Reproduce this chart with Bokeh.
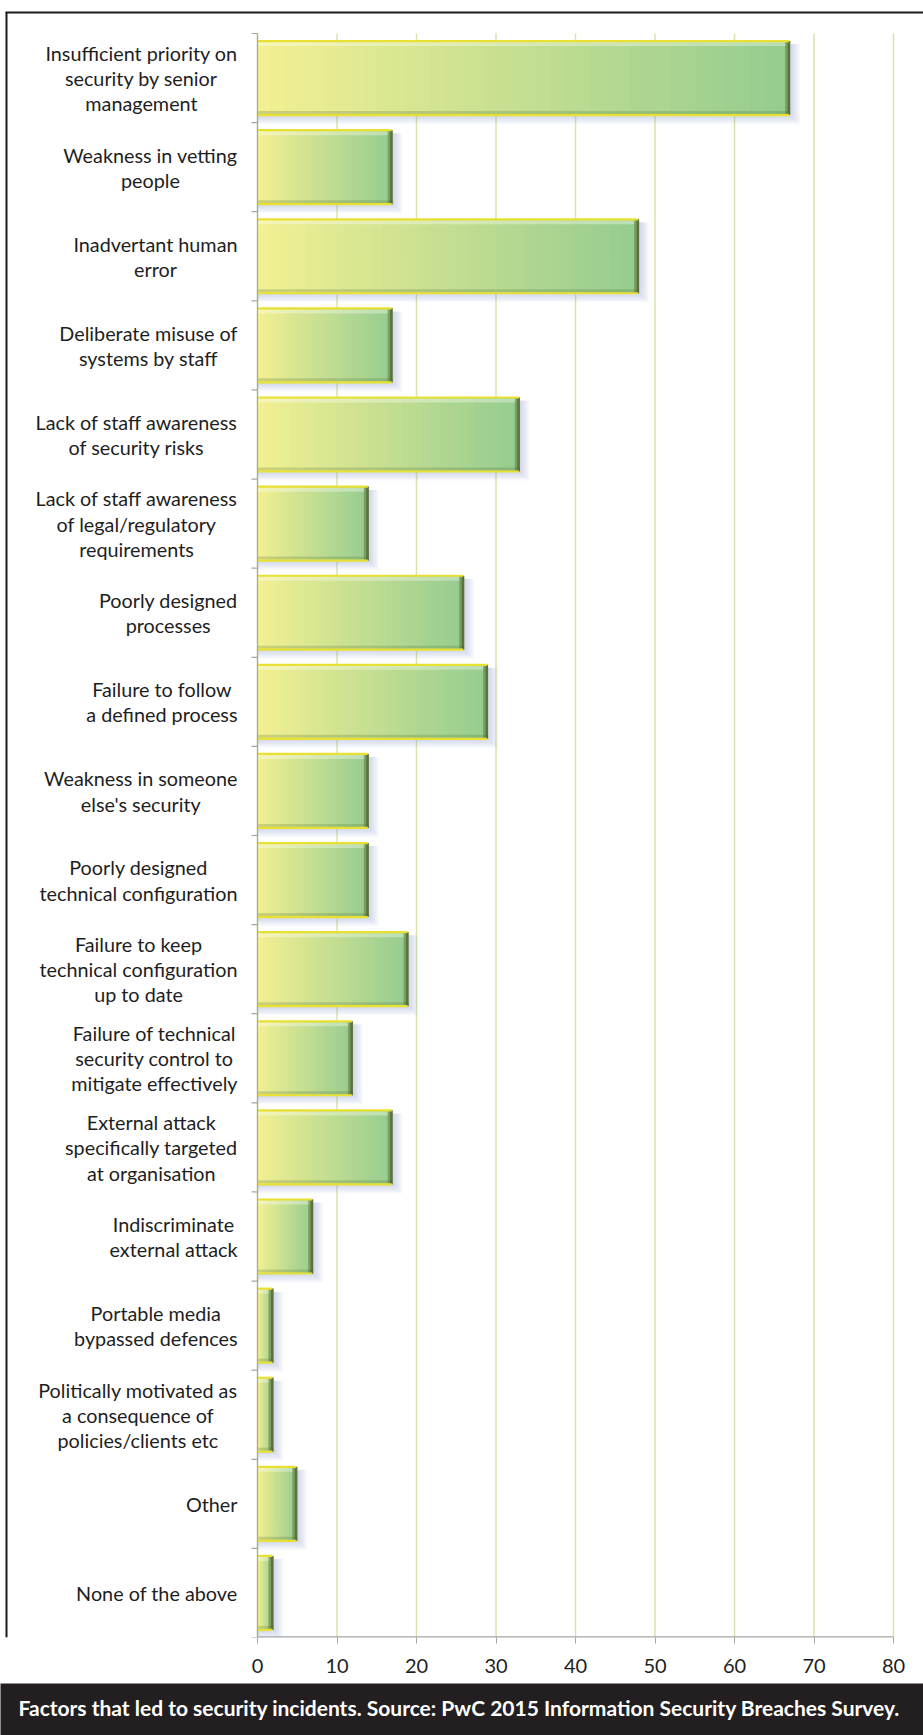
from bokeh.plotting import figure
from bokeh.layouts import column
from bokeh.models import FixedTicker, Range1d
from bokeh.core.properties import value
from bokeh.embed import file_html
from bokeh.resources import INLINE

# ---------------- data ----------------
categories = [
    "Insufficient priority on\nsecurity by senior\nmanagement",
    "Weakness in vetting\npeople",
    "Inadvertant human\nerror",
    "Deliberate misuse of\nsystems by staff",
    "Lack of staff awareness\nof security risks",
    "Lack of staff awareness\nof legal/regulatory\nrequirements",
    "Poorly designed\nprocesses",
    "Failure to follow\na defined process",
    "Weakness in someone\nelse's security",
    "Poorly designed\ntechnical configuration",
    "Failure to keep\ntechnical configuration\nup to date",
    "Failure of technical\nsecurity control to\nmitigate effectively",
    "External attack\nspecifically targeted\nat organisation",
    "Indiscriminate\nexternal attack",
    "Portable media\nbypassed defences",
    "Politically motivated as\na consequence of\npolicies/clients etc",
    "Other",
    "None of the above",
]
values = [67, 17, 48, 17, 33, 14, 26, 29, 14, 14, 19, 12, 17, 7, 2, 2, 5, 2]
x_ticks = [0, 10, 20, 30, 40, 50, 60, 70, 80]
caption = "Factors that led to security incidents. Source: PwC 2015 Information Security Breaches Survey."

# ---------------- layout constants (pixels) ----------------
W = 923
H = 1683
BOTTOM = 46
FRAME_H = H - BOTTOM
PLOT_TOP = 33          # px from frame top to category area top
AXIS_LEFT = 257        # px from frame left to x=0
PLOT_W = 636           # px from 0 to 80

xs = PLOT_W / (x_ticks[-1] - x_ticks[0])      # px per x-unit
n = len(values)
ys = (FRAME_H - PLOT_TOP) / n                 # px per y-unit
dx = 1.0 / xs
dy = 1.0 / ys
x_start = -AXIS_LEFT / xs
x_end = (W - AXIS_LEFT) / xs
y_end = FRAME_H / ys

FONT_NAME = "Lato"
LABEL_FONT = value(FONT_NAME)
AX_GRAY = "#A6A6A6"

p = figure(width=W, height=H, output_backend="svg", toolbar_location=None,
           x_range=Range1d(x_start, x_end), y_range=Range1d(0, y_end),
           y_axis_location=None, min_border_left=0, min_border_right=0,
           min_border_top=0, min_border_bottom=BOTTOM)
p.outline_line_color = None
p.background_fill_color = "white"
p.border_fill_color = "white"
p.xgrid.grid_line_color = None
p.ygrid.grid_line_color = None

# x axis
ax = p.xaxis[0]
ax.ticker = FixedTicker(ticks=x_ticks)
ax.axis_line_color = None
ax.major_tick_line_color = AX_GRAY
ax.major_tick_out = 6
ax.major_tick_in = 0
ax.minor_tick_line_color = None
ax.major_label_text_font = FONT_NAME
ax.major_label_text_font_size = "20px"
ax.major_label_text_color = "#1E1E1E"
ax.major_label_standoff = 15

# grid lines (only over category area)
p.segment(x0=x_ticks, y0=[0] * len(x_ticks), x1=x_ticks, y1=[n] * len(x_ticks),
          line_color="#D5E6AC", line_width=1.5)

# bars
centers = [n - i - 0.5 for i in range(n)]
bh = 0.83
tops = [c + bh / 2 for c in centers]
bots = [c - bh / 2 for c in centers]

# soft shadow
for k in range(1, 8):
    p.quad(left=[0] * n, right=[v + 1.4 * k * dx for v in values],
           top=[t - 3 * dy for t in tops], bottom=[b - 1.3 * k * dy for b in bots],
           fill_color="#8497C4", fill_alpha=0.06, line_color=None)

# gradient fill (overlapping slices to avoid seams)
c0 = (243, 240, 146)
c1 = (148, 204, 144)
N = 40
L, R, T, B, C = [], [], [], [], []
for v, t, b in zip(values, tops, bots):
    for k in range(N):
        f = (k + 0.5) / N
        col = tuple(int(round(c0[j] + (c1[j] - c0[j]) * f)) for j in range(3))
        L.append(v * k / N)
        R.append(min(v * (k + 1) / N + 1.5 * dx, v))
        T.append(t)
        B.append(b)
        C.append("#%02x%02x%02x" % col)
p.quad(left=L, right=R, top=T, bottom=B, fill_color=C, line_color=None)

# bevel: top highlight, bottom shade, right dark edge
p.quad(left=[0] * n, right=[v - 4 * dx for v in values],
       top=[t - 1 * dy for t in tops], bottom=[t - 5 * dy for t in tops],
       fill_color="white", fill_alpha=0.35, line_color=None)
p.quad(left=[0] * n, right=values,
       top=[b + 4 * dy for b in bots], bottom=[b + 1 * dy for b in bots],
       fill_color="#46621f", fill_alpha=0.22, line_color=None)
p.quad(left=[v - 5 * dx for v in values], right=values, top=tops, bottom=bots,
       fill_color="#56652b", fill_alpha=0.45, line_color=None)
p.quad(left=[v - 2.5 * dx for v in values], right=values, top=tops, bottom=bots,
       fill_color="#4a5424", fill_alpha=0.6, line_color=None)
# yellow outline on top and bottom
p.segment(x0=[0] * n, y0=tops, x1=[v - 1 * dx for v in values], y1=tops,
          line_color="#E8E133", line_width=2.2)
p.segment(x0=[0] * n, y0=bots, x1=[v - 1 * dx for v in values], y1=bots,
          line_color="#E8E133", line_width=2.2)

# y axis line and boundary ticks
p.segment(x0=[0], y0=[0], x1=[0], y1=[n], line_color=AX_GRAY, line_width=1.2)
bounds = list(range(n + 1))
p.segment(x0=[-6 * dx] * len(bounds), y0=bounds, x1=[0] * len(bounds), y1=bounds,
          line_color=AX_GRAY, line_width=1.2)
# x axis line
p.segment(x0=[x_ticks[0]], y0=[0], x1=[x_ticks[-1]], y1=[0],
          line_color=AX_GRAY, line_width=2.4)

# category labels
p.text(x=[-20 * dx] * n, y=centers, text=categories,
       anchor="center_right", text_align="center", text_baseline="middle",
       text_font=LABEL_FONT, text_font_size="19.8px", text_color="#1E1E1E",
       text_line_height=1.05)

# frame border (top and left)
p.segment(x0=[x_start + 5 * dx], y0=[y_end - 12 * dy], x1=[x_end], y1=[y_end - 12 * dy],
          line_color="#1A1A1A", line_width=2)
p.segment(x0=[x_start + 6 * dx], y0=[0], x1=[x_start + 6 * dx], y1=[y_end - 12 * dy],
          line_color="#1A1A1A", line_width=2)

# caption band
CH = 52
cap = figure(width=W, height=CH, output_backend="svg", toolbar_location=None,
             x_range=Range1d(0, W), y_range=Range1d(0, CH),
             x_axis_location=None, y_axis_location=None, min_border=0)
cap.outline_line_color = None
cap.background_fill_color = "#231F20"
cap.border_fill_color = "#231F20"
cap.xgrid.grid_line_color = None
cap.ygrid.grid_line_color = None
cap.text(x=[18], y=[28.5], text=[caption], text_baseline="alphabetic", text_align="left",
         text_font=value("Lato"), text_font_style="bold",
         text_font_size="21px", text_color="white")

layout = column(p, cap, spacing=0)
open("out.html", "w").write(file_html(layout, INLINE))
